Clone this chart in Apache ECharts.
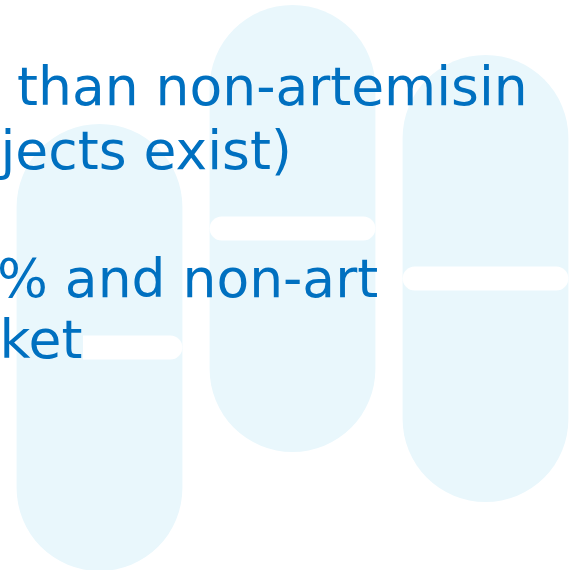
<!DOCTYPE html>
<html>
<head>
<meta charset="utf-8">
<style>html,body{margin:0;padding:0;background:#fff;}#main{width:582px;height:570px;}</style>
<script src="https://cdn.jsdelivr.net/npm/echarts@6/dist/echarts.min.js"></script>
</head>
<body>
<div id="main"></div>
<script>
// ---- data ----
const categories = ['Pill 1', 'Pill 2', 'Pill 3'];
const pillBottom = [-1, 118, 68];
const pillTop = [446, 565, 515];
const textLines = ['than non-artemisin', 'jects exist)', '% and non-art', 'ket'];

// ---- styles ----
const pillColor = '#E9F7FC';
const textColor = '#0070C0';
const bandStart = [0.4, 0, 0];
const textX = [17, 0.5, -3, -0.5];
const textBaseline = [107, 171, 299, 360];
const fontSize = 53.5;

const chart = echarts.init(document.getElementById('main'), null, {renderer: 'canvas'});

function renderItem(params, api) {
  const i = params.dataIndex;
  const x = api.value(0);
  const lo = api.coord([x, api.value(1)]);
  const hi = api.coord([x, api.value(2)]);
  const w = api.size([1, 0])[0] * 0.859;
  const cx = lo[0];
  const top = hi[1], bottom = lo[1];
  const midY = (top + bottom) / 2;
  const left = cx - w / 2;
  const bandLeft = left + w * bandStart[i];
  return {
    type: 'group',
    children: [
      {type: 'rect', shape: {x: left, y: top, width: w, height: bottom - top, r: w / 2}, style: {fill: pillColor}},
      {type: 'rect', shape: {x: bandLeft, y: midY - 12, width: left + w - bandLeft, height: 24,
        r: bandStart[i] > 0 ? [0, 12, 12, 0] : 12}, style: {fill: '#ffffff'}}
    ]
  };
}

chart.setOption({
  animation: false,
  grid: {left: 3, width: 580, top: 0, bottom: 0},
  xAxis: {type: 'category', data: categories, show: false},
  yAxis: {type: 'value', min: 0, max: 570, show: false},
  series: [{
    type: 'custom',
    renderItem: renderItem,
    data: categories.map((c, i) => [i, pillBottom[i], pillTop[i]]),
    z: 1
  }],
  graphic: textLines.map((t, i) => ({
    type: 'text',
    z: 10,
    x: textX[i],
    y: textBaseline[i] - 0.3 * fontSize,
    style: {
      text: t,
      fill: textColor,
      font: fontSize + 'px "DejaVu Sans", Verdana, sans-serif',
      textAlign: 'left',
      textVerticalAlign: 'middle'
    }
  }))
});
</script>
</body>
</html>
